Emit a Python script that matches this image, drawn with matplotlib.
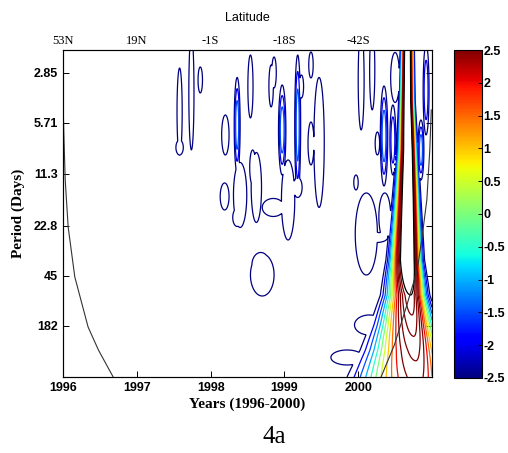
import numpy as np
import matplotlib
matplotlib.use("Agg")
import matplotlib.pyplot as plt
from matplotlib import cm, colors

# axis labels / ticks
year_ticks = [1996, 1997, 1998, 1999, 2000]
lat_labels = ["53N", "19N", "-1S", "-18S", "-42S"]
period_pos = [0.46, 1.46, 2.48, 3.52, 4.52, 5.52]
period_labels = ["2.85", "5.71", "11.3", "22.8", "45", "182"]
cbar_ticks = [2.5, 2, 1.5, 1, 0.5, 0, -0.5, -1, -1.5, -2, -2.5]
levels = [-2.5, -2, -1.5, -1, -0.5, 0, 0.5, 1, 1.5, 2, 2.5, 3, 3.5, 4]
black_level = 4.5

# small power patches: centre (year, scale), half extents of the outer contour, peak value
blob_t = [1997.58, 1997.74, 1997.86, 1998.20, 1998.36, 1998.40, 1998.54, 1998.82, 1998.86,
          1998.97, 1998.62, 1999.05, 1998.85, 1998.19, 1998.70, 1998.57, 1999.18, 1999.36,
          1999.23, 1999.47, 1999.36, 2000.04, 2000.19, 2000.26, 2000.35, 1999.97, 2000.11,
          2000.36, 2000.50, 2000.92, 2000.47, 2000.85, 2000.15, 1999.85, 1997.58, 1999.18,
          2000.25, 1998.68, 1998.36]
blob_s = [1.23, 0.85, 0.60, 1.70, 1.50, 2.90, 0.73, 0.72, 0.45,
          1.60, 2.75, 3.00, 3.15, 2.93, 4.50, 2.35, 1.50, 0.30,
          0.73, 1.85, 1.87, 0.60, 0.40, 1.87, 1.72, 2.65, 3.68,
          3.33, 0.55, 0.80, 1.80, 2.00, 5.50, 6.15, 1.95, 2.75,
          3.75, 4.30, 3.35]
blob_ht = [0.035, 0.035, 0.03, 0.05, 0.04, 0.09, 0.035, 0.03, 0.03,
           0.05, 0.07, 0.09, 0.15, 0.06, 0.16, 0.04, 0.04, 0.03,
           0.03, 0.07, 0.04, 0.04, 0.035, 0.03, 0.05, 0.03, 0.15,
           0.08, 0.06, 0.04, 0.04, 0.04, 0.20, 0.22, 0.05, 0.06,
           0.15, 0.12, 0.06]
blob_hs = [0.87, 1.15, 0.26, 0.40, 0.95, 0.65, 0.63, 0.42, 0.31,
           0.90, 0.70, 0.80, 0.18, 0.27, 0.42, 0.35, 1.40, 0.26,
           0.23, 1.30, 0.43, 1.00, 0.80, 0.23, 1.00, 0.15, 0.82,
           0.47, 0.50, 0.90, 0.70, 0.60, 0.20, 0.15, 0.15, 0.20,
           0.10, 0.25, 0.18]
blob_peak = [-2.2, -2.2, -2.2, -2.2, -1.0, -2.2, -2.2, -2.2, -2.2,
             -1.0, -2.2, -2.2, -2.2, -2.2, -2.2, -2.2, -1.0, -2.2,
             -2.2, -2.2, -2.2, -2.2, -2.2, -2.2, -1.0, -2.2, -2.2,
             -2.2, -2.0, -1.5, -1.5, -1.0, -2.2, -2.2, -2.2, -2.2,
             -2.2, -2.2, -2.2]

# main ridge near late 2000
ridge_s = [0.0, 1.0, 2.0, 3.0, 4.2, 4.9, 5.5, 6.0, 6.54]
ridge_c = [2000.67, 2000.67, 2000.68, 2000.68, 2000.68, 2000.71, 2000.74, 2000.77, 2000.80]
ridge_peak = [8.0, 8.0, 7.8, 7.5, 6.9, 4.5, 3.75, 3.2, 2.7]
ridge_wl = [0.05, 0.06, 0.08, 0.11, 0.153, 0.22, 0.32, 0.42, 0.55]
ridge_wr = [0.045, 0.05, 0.065, 0.085, 0.11, 0.14, 0.2, 0.26, 0.32]

# cone of influence
coi_s = [0.94, 1.6, 2.6, 3.54, 4.54, 5.54, 6.0, 6.54]
coi_left = [1996.0, 1996.01, 1996.03, 1996.07, 1996.16, 1996.34, 1996.48, 1996.68]
coi_rs = [1.2, 2.0, 3.0, 3.8, 4.4, 5.1, 5.9, 6.54]
coi_right = [2000.99, 2000.97, 2000.93, 2000.86, 2000.80, 2000.66, 2000.49, 2000.31]

BG = -4.0
LOW = levels[0]

t = np.linspace(1996, 2001, 800)
s = np.linspace(0, 6.54, 500)
T, S = np.meshgrid(t, s)
Z = np.full(T.shape, BG)

for t0, s0, ht, hs, pk in zip(blob_t, blob_s, blob_ht, blob_hs, blob_peak):
    a = pk - BG
    r = np.sqrt(2 * np.log(a / (LOW - BG)))
    Z = np.maximum(Z, BG + a * np.exp(-0.5 * (((T - t0) / (ht / r)) ** 2 + ((S - s0) / (hs / r)) ** 2)))

pk = np.interp(s, ridge_s, ridge_peak)[:, None] - BG
c = np.interp(s, ridge_s, ridge_c)[:, None]
wl = np.interp(s, ridge_s, ridge_wl)[:, None]
wr = np.interp(s, ridge_s, ridge_wr)[:, None]
w = np.where(T < c, wl, wr)
Z = np.maximum(Z, BG + pk * np.exp(-0.5 * ((T - c) / w) ** 2))

norm = colors.Normalize(vmin=-2.5, vmax=2.5)
jet = matplotlib.colormaps["jet"]
lev_cols = [jet(norm(min(l, 2.5))) for l in levels]

fig = plt.figure(figsize=(5.08, 4.53), dpi=100)
ax = fig.add_axes([0.124, 0.1678, 0.7264, 0.7219])
ax.contour(T, S, Z, levels=levels, colors=lev_cols, linewidths=0.9)
ax.contour(T, S, Z, levels=[black_level], colors="k", linewidths=0.9)
ax.plot(coi_left, coi_s, color="#333333", lw=0.8)
ax.plot(coi_right, coi_rs, color="#333333", lw=0.8)

ax.set_xlim(1996, 2001)
ax.set_ylim(6.54, 0)
ax.set_xticks(year_ticks)
ax.set_xticklabels([str(y) for y in year_ticks], fontsize=9, fontweight="bold", family="Liberation Sans")
ax.set_yticks(period_pos)
ax.set_yticklabels(period_labels, fontsize=9, fontweight="bold", family="Liberation Sans")
ax.tick_params(direction="in", length=4, top=True, right=True, width=0.7)
ax.set_xlabel("Years (1996-2000)", fontsize=11, fontweight="bold", family="Liberation Serif", labelpad=3)
ax.set_ylabel("Period (Days)", fontsize=11, fontweight="bold", family="Liberation Serif", labelpad=6)
for sp in ax.spines.values():
    sp.set_linewidth(0.8)
    sp.set_color("#444444")

ax2 = ax.twiny()
ax2.set_xlim(1996, 2001)
ax2.set_xticks(year_ticks)
ax2.set_xticklabels(lat_labels, fontsize=9, family="Liberation Serif")
ax2.tick_params(direction="in", length=0, pad=2)
ax2.set_xlabel("Latitude", fontsize=9, family="Liberation Sans", labelpad=10)

cax = fig.add_axes([0.8937, 0.1656, 0.0551, 0.724])
sm = cm.ScalarMappable(norm=norm, cmap=jet)
cb = fig.colorbar(sm, cax=cax, ticks=cbar_ticks)
cb.ax.set_yticklabels([("%g" % v) for v in cbar_ticks], fontsize=9, fontweight="bold", family="Liberation Sans")
cb.ax.tick_params(direction="in", length=3, width=0.7, pad=1)
cb.outline.set_linewidth(0.8)

fig.text(0.54, 0.035, "4a", fontsize=18, family="Liberation Serif", ha="center", va="center")

fig.savefig("out.png", dpi=100)
